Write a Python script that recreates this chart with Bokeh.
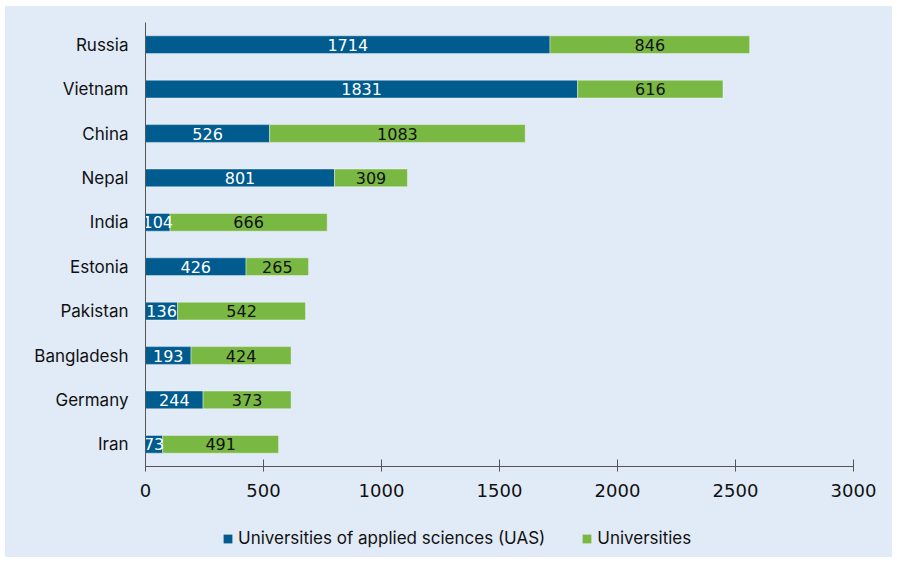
from bokeh.plotting import figure
from bokeh.models import ColumnDataSource, Range1d, FactorRange, Legend, LegendItem, Spacer
from bokeh.layouts import column, row
from bokeh.core.properties import value
from bokeh.embed import file_html
from bokeh.resources import INLINE

countries = ["Russia", "Vietnam", "China", "Nepal", "India", "Estonia",
             "Pakistan", "Bangladesh", "Germany", "Iran"]
uas = [1714, 1831, 526, 801, 104, 426, 136, 193, 244, 73]
universities = [846, 616, 1083, 309, 666, 265, 542, 424, 373, 491]
x_ticks = [0, 500, 1000, 1500, 2000, 2500, 3000]
series_names = ["Universities of applied sciences (UAS)", "Universities"]

BLUE = "#005b8f"
GREEN = "#7ab844"
BG = "#e1ebf7"
FONT = "Inter"
NUMFONT = "DejaVu Sans"

src = ColumnDataSource(dict(
    country=countries,
    uas_left=[0] * len(countries),
    uas_right=uas,
    univ_left=uas,
    univ_right=[a + b for a, b in zip(uas, universities)],
    uas_mid=[a / 2 for a in uas],
    univ_mid=[a + b / 2 for a, b in zip(uas, universities)],
    uas_txt=[str(a) for a in uas],
    univ_txt=[str(b) for b in universities],
))

p = figure(width=887, height=504, output_backend="svg", toolbar_location=None,
           x_range=Range1d(0, 3000), y_range=FactorRange(factors=list(reversed(countries))),
           min_border_left=140, min_border_right=39, min_border_top=16, min_border_bottom=44)
p.background_fill_color = BG
p.border_fill_color = BG
p.outline_line_color = None
p.xgrid.grid_line_color = None
p.ygrid.grid_line_color = None

p.hbar(y="country", left="uas_left", right="uas_right", height=0.4, source=src,
       fill_color=BLUE, line_color="white", line_alpha=0.4, line_width=1)
p.hbar(y="country", left="univ_left", right="univ_right", height=0.4, source=src,
       fill_color=GREEN, line_color="white", line_alpha=0.4, line_width=1)

p.text(x="uas_mid", y="country", text="uas_txt", source=src, text_color="white",
       text_font=value(NUMFONT), text_font_size="16px", text_align="center",
       text_baseline="middle")
p.text(x="univ_mid", y="country", text="univ_txt", source=src, text_color="#111111",
       text_font=value(NUMFONT), text_font_size="16px", text_align="center",
       text_baseline="middle")

xa = p.xaxis[0]
xa.ticker = x_ticks
xa.axis_line_color = "#555555"
xa.major_tick_line_color = "#555555"
xa.major_tick_in = 7
xa.major_tick_out = 5
xa.minor_tick_line_color = None
xa.major_label_standoff = 12
xa.major_label_text_font = NUMFONT
xa.major_label_text_font_size = "18px"
xa.major_label_text_color = "#111111"

ya = p.yaxis[0]
ya.axis_line_color = "#555555"
ya.major_tick_line_color = None
ya.major_tick_in = 0
ya.major_tick_out = 0
ya.minor_tick_line_color = None
ya.major_label_standoff = 17
ya.major_label_text_font = FONT
ya.major_label_text_font_size = "17px"
ya.major_label_text_color = "#111111"

# legend strip below the chart (its renderers are hidden, only the legend shows)
p2 = figure(width=887, height=47, output_backend="svg", toolbar_location=None,
            x_range=Range1d(0, 3000), y_range=FactorRange(factors=list(reversed(countries))),
            min_border=0, min_border_left=0, min_border_right=0,
            min_border_top=0, min_border_bottom=0)
p2.background_fill_color = BG
p2.border_fill_color = BG
p2.outline_line_color = None
p2.xaxis.visible = False
p2.yaxis.visible = False
p2.xgrid.visible = False
p2.ygrid.visible = False
l1 = p2.hbar(y="country", left="uas_left", right="uas_right", height=0.4, source=src,
             fill_color=BLUE, line_color=None, visible=False)
l2 = p2.hbar(y="country", left="univ_left", right="univ_right", height=0.4, source=src,
             fill_color=GREEN, line_color=None, visible=False)

legend = Legend(items=[LegendItem(label=series_names[0], renderers=[l1]),
                       LegendItem(label=series_names[1], renderers=[l2])],
                orientation="horizontal", location=(77, 9),
                background_fill_alpha=0, border_line_color=None,
                label_text_font=FONT, label_text_font_size="17px",
                label_text_color="#111111", glyph_width=11, glyph_height=11,
                spacing=36, label_standoff=5, margin=0, padding=4,
                click_policy="none")
p2.add_layout(legend, "center")

inner = column(p, p2, spacing=0, styles={"background-color": BG})
layout = row(Spacer(width=5), column(Spacer(height=6), inner, spacing=0), spacing=0)
open("out.html", "w").write(file_html(layout, INLINE))
